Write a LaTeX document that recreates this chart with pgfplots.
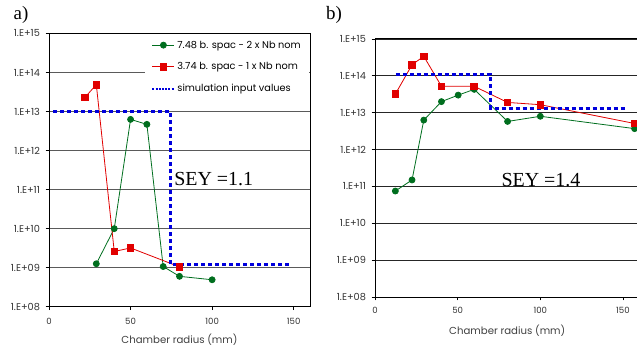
\documentclass[border=0pt]{standalone}
\usepackage{fontspec}
\setmainfont{Liberation Serif}
\newfontfamily\gothic{Poppins}
\usepackage{pgfplots}
\pgfplotsset{compat=1.18}
\definecolor{cgreen}{RGB}{0,110,30}
\definecolor{cred}{RGB}{225,0,0}
\definecolor{cblue}{RGB}{0,0,220}
\definecolor{cgrid}{RGB}{90,90,90}
\newcommand\yl[1]{\mbox{\gothic\fontsize{9.8}{11}\selectfont #1}}
\tikzset{
 gline/.style={cgreen, line width=0.8bp, mark=*, mark size=3bp, mark options={solid, fill=cgreen}},
 rline/.style={cred, line width=0.8bp, mark=square*, mark size=3.3bp, mark options={solid, fill=cred}},
 bline/.style={cblue, line width=3.5bp, dash pattern=on 4bp off 3bp},
}
\begin{document}
\begin{tikzpicture}[x=1bp,y=1bp]
\path[use as bounding box] (0,0) rectangle (637,352);
\node[font=\fontsize{19}{22}\selectfont] at (21,337) {a)};
\node[font=\fontsize{19}{22}\selectfont] at (334,337) {b)};
\begin{axis}[scale only axis, ymode=log, xmin=0, xmax=160, ymin=1e8, ymax=1e15,
  xtick={0,50,100,150}, xticklabels={0,50,100,150},
  ytick={1e8,1e9,1e10,1e11,1e12,1e13,1e14,1e15},
  yticklabels={\yl{1.E+08},\yl{1.E+09},\yl{1.E+10},\yl{1.E+11},\yl{1.E+12},\yl{1.E+13},\yl{1.E+14},\yl{1.E+15}},
  yminorticks=false,
  tick align=outside, xtick pos=bottom, ytick pos=left,
  major tick length=3.5bp,
  ymajorgrids, grid style={cgrid, line width=0.9bp},
  tick label style={font=\gothic\fontsize{9.8}{11}\selectfont, text=black!80},
  yticklabel style={xshift=-2bp},
  xticklabel style={font=\gothic\fontsize{8.6}{10}\selectfont, yshift=-4bp},
  xlabel={Chamber radius (mm)},
  xlabel style={font=\gothic\fontsize{10.2}{12}\selectfont, text=black!75, yshift=-3bp},
  axis line style={line width=1bp},
  tick style={black, line width=0.8bp},
  width=261bp, height=273.2bp, at={(49bp,45.3bp)}, anchor=south west,
  legend style={draw=none, fill=white, at={(0.996,0.996)}, anchor=north east,
    inner xsep=6bp, inner ysep=4bp, row sep=9bp, font=\gothic\fontsize{9.8}{11}\selectfont},
  legend image code/.code={\draw[mark repeat=2,mark phase=2,#1] plot coordinates {(0bp,0bp)(11bp,0bp)(22bp,0bp)};},
  legend cell align=left]
\addplot[gline] coordinates {(29,1.26e9)(40,1e10)(50,6.3e12)(60,4.7e12)(70,1.07e9)(80,6e8)(100,4.9e8)};
\addlegendentry{7.48 b. spac - 2 x Nb nom}
\addplot[rline] coordinates {(22,2.3e13)(29,4.9e13)(40,2.6e9)(50,3.2e9)(80,1.05e9)};
\addlegendentry{3.74 b. spac - 1 x Nb nom}
\addplot[bline, legend image post style={line width=2bp, dash pattern=on 2bp off 1.2bp}] coordinates {(2.7,1e13)(74.5,1e13)(74.5,1.2e9)(148,1.2e9)};
\addlegendentry{simulation input values}
\node[font=\fontsize{20}{24}\selectfont] at (axis cs:101,1.85e11) {SEY =1.1};
\end{axis}
\begin{axis}[scale only axis, ymode=log, xmin=0, xmax=160, ymin=1e8, ymax=1e15,
  xtick={0,50,100,150}, xticklabels={0,50,100,150},
  ytick={1e8,1e9,1e10,1e11,1e12,1e13,1e14,1e15},
  yticklabels={\yl{1.E+08},\yl{1.E+09},\yl{1.E+10},\yl{1.E+11},\yl{1.E+12},\yl{1.E+13},\yl{1.E+14},\yl{1.E+15}},
  yminorticks=false,
  tick align=outside, xtick pos=bottom, ytick pos=left,
  major tick length=3.5bp,
  ymajorgrids, grid style={black!85, line width=0.9bp},
  tick label style={font=\gothic\fontsize{9.8}{11}\selectfont, text=black!80},
  yticklabel style={xshift=-2bp},
  xticklabel style={font=\gothic\fontsize{8.6}{10}\selectfont, yshift=-3bp},
  xlabel={Chamber radius (mm)},
  xlabel style={font=\gothic\fontsize{10.2}{12}\selectfont, text=black!75, yshift=-5bp},
  axis line style={line width=1bp},
  tick style={black, line width=0.8bp},
  width=264.5bp, height=258bp, at={(375bp,55bp)}, anchor=south west]
\addplot[gline] coordinates {(12.3,7.5e10)(22.4,1.5e11)(29.5,6.3e12)(40.2,2e13)(50.3,3e13)(60,4.3e13)(80.2,5.8e12)(100,8e12)(157,3.7e12)};
\addplot[rline] coordinates {(12.3,3.2e13)(22.4,2e14)(29.5,3.4e14)(40.2,5.2e13)(60,5.2e13)(80.2,1.9e13)(100,1.65e13)(157,5.1e12)};
\addplot[bline] coordinates {(12.6,1.1e14)(70,1.1e14)(70,1.3e13)(151,1.3e13)};
\node[font=\fontsize{20}{24}\selectfont] at (axis cs:100.4,1.5e11) {SEY =1.4};
\end{axis}
\end{tikzpicture}
\end{document}
